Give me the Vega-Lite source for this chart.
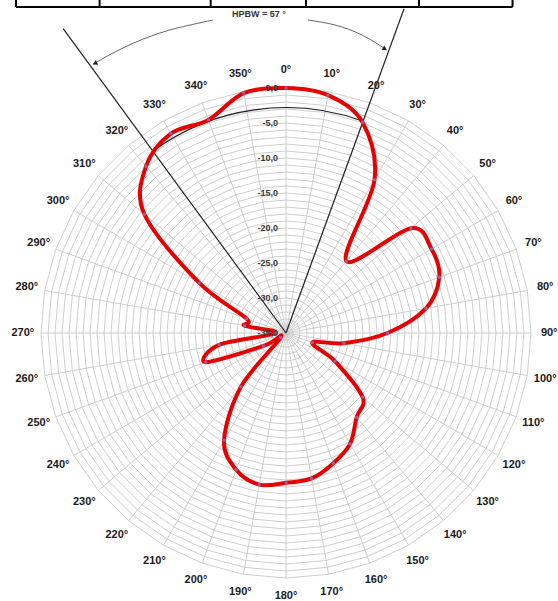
{
  "$schema": "https://vega.github.io/schema/vega-lite/v6.json",
  "width": 490,
  "height": 490,
  "autosize": {"type": "none"},
  "padding": {"left": 41, "top": 88, "right": 27, "bottom": 23},
  "background": "white",
  "config": {"view": {"stroke": null}},
  "datasets": {
    "pattern": [
      {"angle": 0, "db": 0}, {"angle": 10, "db": -0.5}, {"angle": 20, "db": -3.0}, {"angle": 30, "db": -9.7},
      {"angle": 40, "db": -21.6}, {"angle": 50, "db": -11.7}, {"angle": 60, "db": -11.0}, {"angle": 70, "db": -11.7},
      {"angle": 80, "db": -14.7}, {"angle": 90, "db": -20.5}, {"angle": 100, "db": -26.6}, {"angle": 110, "db": -31.0},
      {"angle": 120, "db": -26.9}, {"angle": 130, "db": -20.7}, {"angle": 140, "db": -19.3}, {"angle": 150, "db": -16.7},
      {"angle": 160, "db": -15.2}, {"angle": 170, "db": -13.9}, {"angle": 180, "db": -13.6}, {"angle": 190, "db": -13.0},
      {"angle": 200, "db": -14.2}, {"angle": 210, "db": -17.3}, {"angle": 220, "db": -25.0}, {"angle": 230, "db": -34.0},
      {"angle": 240, "db": -31.3}, {"angle": 250, "db": -22.8}, {"angle": 260, "db": -25.3}, {"angle": 270, "db": -33.5},
      {"angle": 280, "db": -29.0}, {"angle": 290, "db": -29.0}, {"angle": 300, "db": -20.7}, {"angle": 310, "db": -8.6},
      {"angle": 320, "db": -3.9}, {"angle": 330, "db": -2.1}, {"angle": 340, "db": -2.6}, {"angle": 350, "db": -0.2}
    ],
    "angles": [
      {"angle": 0, "label": "0°"}, {"angle": 10, "label": "10°"}, {"angle": 20, "label": "20°"}, {"angle": 30, "label": "30°"},
      {"angle": 40, "label": "40°"}, {"angle": 50, "label": "50°"}, {"angle": 60, "label": "60°"}, {"angle": 70, "label": "70°"},
      {"angle": 80, "label": "80°"}, {"angle": 90, "label": "90°"}, {"angle": 100, "label": "100°"}, {"angle": 110, "label": "110°"},
      {"angle": 120, "label": "120°"}, {"angle": 130, "label": "130°"}, {"angle": 140, "label": "140°"}, {"angle": 150, "label": "150°"},
      {"angle": 160, "label": "160°"}, {"angle": 170, "label": "170°"}, {"angle": 180, "label": "180°"}, {"angle": 190, "label": "190°"},
      {"angle": 200, "label": "200°"}, {"angle": 210, "label": "210°"}, {"angle": 220, "label": "220°"}, {"angle": 230, "label": "230°"},
      {"angle": 240, "label": "240°"}, {"angle": 250, "label": "250°"}, {"angle": 260, "label": "260°"}, {"angle": 270, "label": "270°"},
      {"angle": 280, "label": "280°"}, {"angle": 290, "label": "290°"}, {"angle": 300, "label": "300°"}, {"angle": 310, "label": "310°"},
      {"angle": 320, "label": "320°"}, {"angle": 330, "label": "330°"}, {"angle": 340, "label": "340°"}, {"angle": 350, "label": "350°"}
    ],
    "grid": [
      {"levels": [-34,-33,-32,-31,-30,-29,-28,-27,-26,-25,-24,-23,-22,-21,-20,-19,-18,-17,-16,-15,-14,-13,-12,-11,-10,-9,-8,-7,-6,-5,-4,-3,-2,-1,0],
       "angles": [0,10,20,30,40,50,60,70,80,90,100,110,120,130,140,150,160,170,180,190,200,210,220,230,240,250,260,270,280,290,300,310,320,330,340,350,360]}
    ],
    "dblabels": [
      {"db": 0, "label": "0,0"}, {"db": -5, "label": "-5,0"}, {"db": -10, "label": "-10,0"}, {"db": -15, "label": "-15,0"},
      {"db": -20, "label": "-20,0"}, {"db": -25, "label": "-25,0"}, {"db": -30, "label": "-30,0"}, {"db": -35, "label": "-35,0"}
    ],
    "hpbw": [{"angle": 323.8, "len": 53.9}, {"angle": 20.0, "len": 49.3}],
    "arrowarc": [
      {"part": "L", "seq": 1, "x": -27.6, "y": 38.4}, {"part": "L", "seq": 2, "x": -23.0, "y": 40.86},
      {"part": "L", "seq": 3, "x": -18.0, "y": 42.86}, {"part": "L", "seq": 4, "x": -13.71, "y": 44.0},
      {"part": "L", "seq": 5, "x": -10.43, "y": 44.71},
      {"part": "R", "seq": 1, "x": 3.14, "y": 44.71}, {"part": "R", "seq": 2, "x": 7.0, "y": 44.0},
      {"part": "R", "seq": 3, "x": 10.86, "y": 42.57}, {"part": "R", "seq": 4, "x": 14.3, "y": 40.5}
    ],
    "arrows": [{"side": "L", "x": -27.29, "y": 38.5}, {"side": "R", "x": 14.14, "y": 40.57}],
    "tablecols": [{"x": -38.57}, {"x": -26.63}, {"x": -10.76}, {"x": 2.86}, {"x": 19.0}, {"x": 32.36}],
    "tablerow": [{"x": -38.57, "x2": 32.36, "y": 46.57}]
  },
  "layer": [
    {
      "data": {"name": "grid"},
      "transform": [
        {"flatten": ["levels"], "as": ["level"]},
        {"flatten": ["angles"], "as": ["ang"]},
        {"calculate": "(datum.level + 35) * sin(datum.ang * PI / 180)", "as": "gx"},
        {"calculate": "(datum.level + 35) * cos(datum.ang * PI / 180)", "as": "gy"}
      ],
      "mark": {"type": "line", "stroke": "#c8c8c8", "strokeWidth": 0.9},
      "encoding": {
        "x": {"field": "gx", "type": "quantitative", "scale": {"domain": [-35, 35], "nice": false, "zero": false}, "axis": null},
        "y": {"field": "gy", "type": "quantitative", "scale": {"domain": [-35, 35], "nice": false, "zero": false}, "axis": null},
        "detail": {"field": "level", "type": "nominal"},
        "order": {"field": "ang", "type": "quantitative"}
      }
    },
    {
      "data": {"name": "angles"},
      "transform": [
        {"calculate": "35 * sin(datum.angle * PI / 180)", "as": "sx"},
        {"calculate": "35 * cos(datum.angle * PI / 180)", "as": "sy"},
        {"calculate": "0", "as": "ox"}
      ],
      "mark": {"type": "rule", "stroke": "#c8c8c8", "strokeWidth": 0.9},
      "encoding": {
        "x": {"field": "ox", "type": "quantitative"},
        "y": {"field": "ox", "type": "quantitative"},
        "x2": {"field": "sx"},
        "y2": {"field": "sy"}
      }
    },
    {
      "data": {"values": [{"r": 32.2}]},
      "mark": {"type": "arc", "filled": false, "fill": null, "stroke": "#1a1a1a", "strokeWidth": 1.1, "theta": -0.6318, "theta2": 0.3491, "innerRadius": 225.4, "outerRadius": 225.4}
    },
    {
      "data": {"name": "hpbw"},
      "transform": [
        {"calculate": "datum.len * sin(datum.angle * PI / 180)", "as": "hx"},
        {"calculate": "datum.len * cos(datum.angle * PI / 180)", "as": "hy"},
        {"calculate": "0", "as": "ox"}
      ],
      "mark": {"type": "rule", "stroke": "#222222", "strokeWidth": 1.2},
      "encoding": {
        "x": {"field": "ox", "type": "quantitative"},
        "y": {"field": "ox", "type": "quantitative"},
        "x2": {"field": "hx"},
        "y2": {"field": "hy"}
      }
    },
    {
      "data": {"name": "arrowarc"},
      "mark": {"type": "line", "stroke": "#666666", "strokeWidth": 1, "interpolate": "natural"},
      "encoding": {
        "x": {"field": "x", "type": "quantitative"},
        "y": {"field": "y", "type": "quantitative"},
        "detail": {"field": "part", "type": "nominal"},
        "order": {"field": "seq", "type": "quantitative"}
      }
    },
    {
      "data": {"name": "arrows"},
      "transform": [{"filter": "datum.side === 'R'"}],
      "mark": {"type": "point", "shape": "triangle-up", "filled": true, "color": "#222222", "size": 28, "angle": 121, "opacity": 1},
      "encoding": {
        "x": {"field": "x", "type": "quantitative"},
        "y": {"field": "y", "type": "quantitative"}
      }
    },
    {
      "data": {"name": "arrows"},
      "transform": [{"filter": "datum.side === 'L'"}],
      "mark": {"type": "point", "shape": "triangle-up", "filled": true, "color": "#222222", "size": 28, "angle": 241, "opacity": 1},
      "encoding": {
        "x": {"field": "x", "type": "quantitative"},
        "y": {"field": "y", "type": "quantitative"}
      }
    },
    {
      "data": {"name": "pattern"},
      "transform": [
        {"calculate": "(datum.db + 35) * sin(datum.angle * PI / 180)", "as": "px"},
        {"calculate": "(datum.db + 35) * cos(datum.angle * PI / 180)", "as": "py"}
      ],
      "mark": {"type": "line", "stroke": "#e60000", "strokeWidth": 4, "interpolate": "cardinal-closed", "strokeJoin": "round"},
      "encoding": {
        "x": {"field": "px", "type": "quantitative"},
        "y": {"field": "py", "type": "quantitative"},
        "order": {"field": "angle", "type": "quantitative"}
      }
    },
    {
      "data": {"name": "pattern"},
      "transform": [
        {"calculate": "(datum.db + 35) * sin(datum.angle * PI / 180)", "as": "px"},
        {"calculate": "(datum.db + 35) * cos(datum.angle * PI / 180)", "as": "py"}
      ],
      "mark": {"type": "point", "filled": true, "color": "#7f80d0", "size": 12, "opacity": 0.75},
      "encoding": {
        "x": {"field": "px", "type": "quantitative"},
        "y": {"field": "py", "type": "quantitative"}
      }
    },
    {
      "data": {"name": "angles"},
      "transform": [
        {"calculate": "37.6 * sin(datum.angle * PI / 180)", "as": "lx"},
        {"calculate": "37.6 * cos(datum.angle * PI / 180)", "as": "ly"}
      ],
      "mark": {"type": "text", "font": "Liberation Sans", "fontSize": 11, "fontWeight": "bold", "color": "#1a1a1a", "align": "center", "baseline": "middle"},
      "encoding": {
        "x": {"field": "lx", "type": "quantitative"},
        "y": {"field": "ly", "type": "quantitative"},
        "text": {"field": "label", "type": "nominal"}
      }
    },
    {
      "data": {"name": "dblabels"},
      "transform": [{"calculate": "datum.db + 35", "as": "ry"}, {"calculate": "0", "as": "ox"}],
      "mark": {"type": "text", "font": "Liberation Sans", "fontSize": 9, "fontWeight": "bold", "color": "#3a3a3a", "align": "right", "baseline": "middle", "dx": -8},
      "encoding": {
        "x": {"field": "ox", "type": "quantitative"},
        "y": {"field": "ry", "type": "quantitative"},
        "text": {"field": "label", "type": "nominal"}
      }
    },
    {
      "data": {"values": [{"x": -3.86, "y": 45.57, "label": "HPBW = 57 °"}]},
      "mark": {"type": "text", "font": "Liberation Sans", "fontSize": 9, "fontWeight": "bold", "color": "#333333", "align": "center", "baseline": "middle"},
      "encoding": {
        "x": {"field": "x", "type": "quantitative"},
        "y": {"field": "y", "type": "quantitative"},
        "text": {"field": "label", "type": "nominal"}
      }
    },
    {
      "data": {"name": "tablecols"},
      "transform": [{"calculate": "48.2", "as": "yt"}, {"calculate": "46.57", "as": "yb"}],
      "mark": {"type": "rule", "stroke": "#000000", "strokeWidth": 2},
      "encoding": {
        "x": {"field": "x", "type": "quantitative"},
        "y": {"field": "yt", "type": "quantitative"},
        "y2": {"field": "yb"}
      }
    },
    {
      "data": {"name": "tablerow"},
      "mark": {"type": "rule", "stroke": "#000000", "strokeWidth": 2},
      "encoding": {
        "x": {"field": "x", "type": "quantitative"},
        "x2": {"field": "x2"},
        "y": {"field": "y", "type": "quantitative"}
      }
    }
  ]
}
